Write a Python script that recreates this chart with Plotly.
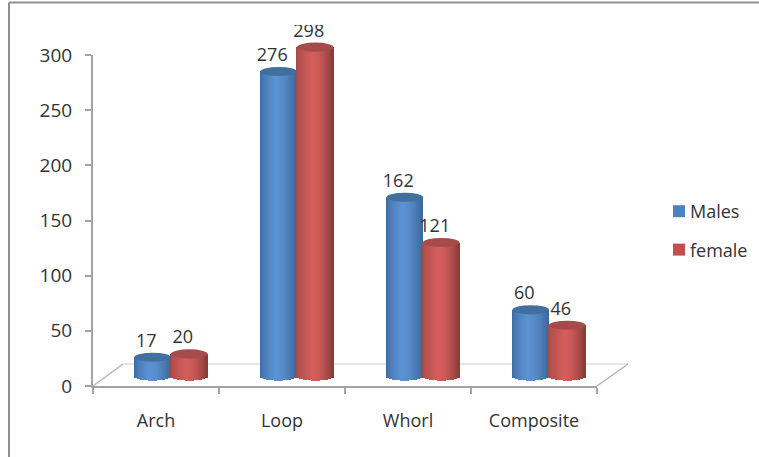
import plotly.graph_objects as go
import numpy as np

categories = ["Arch", "Loop", "Whorl", "Composite"]
males = [17, 276, 162, 60]
female = [20, 298, 121, 46]
y_ticks = [0, 50, 100, 150, 200, 250, 300]

W, H = 759, 457
FONT = "Open Sans"
TEXT = "#333333"
AXIS = "#a3a3a3"

# Pixel layout of the plot
X_LEFT, X_RIGHT = 93, 597
Y_ZERO, Y_300 = 386, 55
PX_PER_UNIT = (Y_ZERO - Y_300) / 300
DEPTH_X, DEPTH_Y = 15, 10           # front-to-back shift of the bars
Y_CLIP = 25                         # upper edge of the drawing area
CAT_PX = (X_RIGHT - X_LEFT) / 4
BAR_PX = 36.5
CAP_RY_PX = 4.6
N_STRIPS = 36


def fx(px):
    return px / W


def fy(px):
    return 1 - px / H


def blend(c1, c2, t):
    return "rgb(%d,%d,%d)" % tuple(round(a + (b - a) * t) for a, b in zip(c1, c2))


def shade(t, edge_l, mid, edge_r):
    # t runs from 0 to 1 across the cylinder; the highlight sits left of centre
    if t < 0.42:
        return blend(edge_l, mid, (t / 0.42) ** 0.6)
    return blend(mid, edge_r, ((t - 0.42) / 0.58) ** 1.7)


def cylinder_traces(name, values, side, edge_l, mid, edge_r):
    bar_w = BAR_PX / CAT_PX
    strip_w = bar_w / N_STRIPS
    ts = (np.arange(N_STRIPS) + 0.5) / N_STRIPS
    centres = [i + side * bar_w / 2 for i in range(len(values))]
    xs, ys, colors, drops = [], [], [], []
    drop_units = CAP_RY_PX / PX_PER_UNIT
    for c, v in zip(centres, values):
        for t in ts:
            xs.append(c + (t - 0.5) * bar_w)
            ys.append(v)
            colors.append(shade(t, edge_l, mid, edge_r))
            drops.append(-drop_units * np.sqrt(1 - (2 * t - 1) ** 2))
    body = go.Bar(x=xs, y=ys, width=strip_w * 1.12, xaxis="x2", yaxis="y2",
                  marker=dict(color=colors, line=dict(width=0)),
                  showlegend=False, hoverinfo="skip", name=name)
    # Rounded underside of each cylinder
    under = go.Bar(x=xs, y=drops, width=strip_w * 1.12, xaxis="x2", yaxis="y2",
                   marker=dict(color=colors, line=dict(width=0)),
                   showlegend=False, hoverinfo="skip")
    return body, under, centres


fig = go.Figure()

# Category axis carrying the ticks and labels
fig.add_trace(go.Scatter(x=categories, y=[None] * 4, xaxis="x", yaxis="y",
                         mode="markers", showlegend=False, hoverinfo="skip"))

m_body, m_under, m_centres = cylinder_traces(
    "Males", males, -1, (58, 104, 158), (92, 146, 210), (60, 104, 156))
f_body, f_under, f_centres = cylinder_traces(
    "female", female, 1, (160, 70, 68), (212, 94, 92), (134, 58, 56))
for tr in (m_under, f_under, m_body, f_body):
    fig.add_trace(tr)

# End caps of the cylinders
shapes = []
rx_units = BAR_PX / CAT_PX / 2
ry_units = CAP_RY_PX / PX_PER_UNIT
for centres, values, cap in ((m_centres, males, "#41709f"), (f_centres, female, "#a54c4a")):
    for c, v in zip(centres, values):
        shapes.append(dict(type="circle", xref="x2", yref="y2", layer="above",
                           x0=c - rx_units, x1=c + rx_units,
                           y0=v - ry_units, y1=v + ry_units,
                           fillcolor=cap, line=dict(width=0)))

# Value labels, clipped by the top of the drawing area; the invisible marker
# sets how far each label sits above its bar
label_dx = 6.5 / CAT_PX
for centres, values in ((m_centres, males), (f_centres, female)):
    fig.add_trace(go.Scatter(
        x=[c - label_dx for c in centres], y=values, xaxis="x2", yaxis="y2",
        mode="markers+text", text=[str(v) for v in values], textposition="top center",
        marker=dict(size=8, opacity=0), cliponaxis=True,
        textfont=dict(family=FONT, size=18, color=TEXT),
        showlegend=False, hoverinfo="skip"))

# Legend entries
for name, col, grp in (("Males", "#4f81bd", "m"), ("female", "#c0504d", "f")):
    fig.add_trace(go.Bar(x=[None], y=[None], name=name, legendgroup=grp,
                         marker=dict(color=col, line=dict(width=0)),
                         xaxis="x2", yaxis="y2"))


def paper_line(x0, y0, x1, y1, color, width):
    return dict(type="line", xref="paper", yref="paper", layer="below",
                x0=fx(x0), y0=fy(y0), x1=fx(x1), y1=fy(y1),
                line=dict(color=color, width=width))


# Outer frame and the floor of the chart
shapes += [
    paper_line(9, 2.5, W, 2.5, "#8f8f8f", 2),
    paper_line(9, 2.5, 9, H, "#8f8f8f", 2),
    paper_line(123, 364, 628, 364, "#dcdcdc", 1.5),
    paper_line(X_LEFT, Y_ZERO, 123, 364, "#b5b5b5", 1.5),
    paper_line(X_RIGHT, Y_ZERO, 628, 364, "#b5b5b5", 1.5),
]

y2_low = -DEPTH_Y / PX_PER_UNIT
y2_high = (Y_ZERO - DEPTH_Y - Y_CLIP) / PX_PER_UNIT

fig.update_layout(
    width=W, height=H, autosize=False,
    margin=dict(l=0, r=0, t=0, b=0, autoexpand=False),
    paper_bgcolor="white", plot_bgcolor="rgba(0,0,0,0)",
    barmode="overlay", bargap=0,
    shapes=shapes,
    font=dict(family=FONT, size=17, color=TEXT),
    xaxis=dict(domain=[fx(X_LEFT), fx(X_RIGHT)], type="category",
               categoryorder="array", categoryarray=categories,
               range=[-0.5, 3.5], anchor="y", tickson="boundaries",
               ticks="outside", ticklen=6, tickwidth=1.5, tickcolor=AXIS,
               showline=True, linecolor=AXIS, linewidth=2, showgrid=False,
               zeroline=False, ticklabelstandoff=17,
               tickfont=dict(family=FONT, size=18, color=TEXT), fixedrange=True),
    yaxis=dict(domain=[fy(Y_ZERO), fy(Y_300)], range=[0, 300], anchor="x",
               tickmode="array", tickvals=y_ticks, ticktext=[str(t) for t in y_ticks],
               ticks="outside", ticklen=6, tickwidth=1.5, tickcolor=AXIS,
               showline=True, linecolor=AXIS, linewidth=2, showgrid=False,
               zeroline=False, ticklabelstandoff=9,
               tickfont=dict(family=FONT, size=19, color=TEXT), fixedrange=True),
    xaxis2=dict(domain=[fx(X_LEFT + DEPTH_X), fx(X_RIGHT + DEPTH_X)], range=[-0.5, 3.5],
                anchor="y2", visible=False, fixedrange=True),
    yaxis2=dict(domain=[fy(Y_ZERO), fy(Y_CLIP)], range=[y2_low, y2_high],
                anchor="x2", visible=False, fixedrange=True),
    legend=dict(x=fx(650), y=fy(193), xanchor="left", yanchor="top",
                bgcolor="rgba(0,0,0,0)", tracegroupgap=12,
                traceorder="grouped", itemwidth=30,
                font=dict(family=FONT, size=18, color=TEXT)),
)

# Brings the legend swatches closer to their names
swatch_nudge = "document.querySelectorAll('.legendsymbols').forEach(function(g){g.setAttribute('transform','translate(9,0)');});"
fig.write_html("out.html", post_script=swatch_nudge)
